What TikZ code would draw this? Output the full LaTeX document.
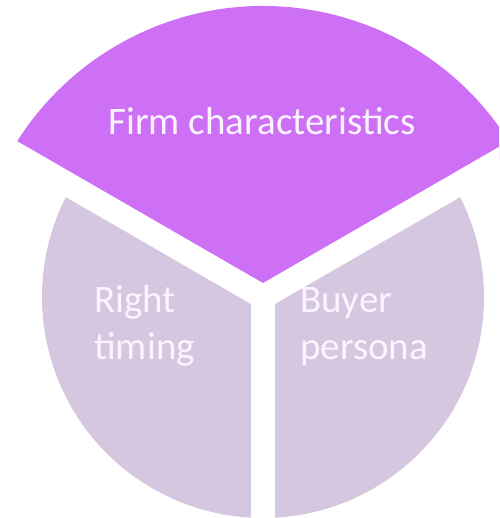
\documentclass[tikz,border=0pt]{standalone}
\usepackage{fontspec}
\setmainfont{Carlito}
\definecolor{topviolet}{RGB}{205,112,246}
\definecolor{lowlilac}{RGB}{214,199,224}
\tikzset{
  topsector/.style = {fill=topviolet},
  lowsector/.style = {fill=lowlilac},
  gapline/.style = {draw=white, line width=24pt, line cap=round},
  label/.style = {text=white!92!topviolet, align=left, inner sep=0pt, font=\fontsize{39}{47}\selectfont}
}
\begin{document}
\begin{tikzpicture}[x=1pt, y=1pt]
    \useasboundingbox (-263,-221) rectangle (236,297);
    \clip (-263,-221) rectangle (236,297);
    \coordinate (centre) at (0,0);

    % three sectors
    \path[topsector] (centre) -- (30:291) arc[start angle=30, end angle=150, radius=291] -- cycle;
    \path[lowsector] (centre) -- (150:221) arc[start angle=150, end angle=270, radius=221] -- cycle;
    \path[lowsector] (centre) -- (270:221) arc[start angle=270, end angle=390, radius=221] -- cycle;

    % white gaps between the sectors
    \coordinate (gapA) at (30:320);
    \coordinate (gapB) at (150:320);
    \coordinate (gapC) at (270:320);
    \path[gapline] (centre) -- (gapA);
    \path[gapline] (centre) -- (gapB);
    \path[gapline] (centre) -- (gapC);

    \node[label, anchor=base] (firm) at (-1,162) {Firm characteristics};
    \node[label, anchor=base west] (timing) at (-169,-63) {Right\\timing};
    \node[label, anchor=base west] (buyer) at (37,-63) {Buyer\\persona};
\end{tikzpicture}
\end{document}
